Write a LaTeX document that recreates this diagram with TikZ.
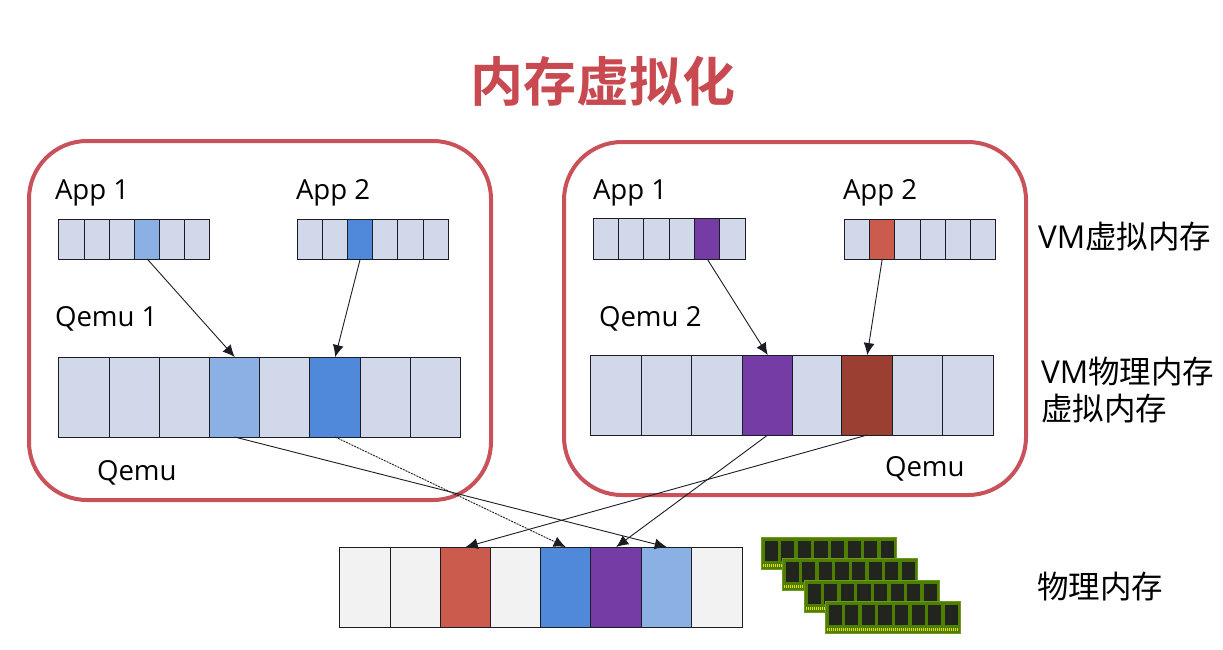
\documentclass[tikz,border=0pt]{standalone}
\usepackage{fontspec}
\setmainfont{Open Sans}
\newfontfamily\cjk{Noto Sans CJK SC}
\newfontfamily\cjkb{Noto Sans CJK SC Bold}
\usetikzlibrary{arrows.meta}
\definecolor{cellbg}{HTML}{D0D8E9}
\definecolor{lblue}{HTML}{8AB0E4}
\definecolor{mblue}{HTML}{5089DA}
\definecolor{vio}{HTML}{753CA5}
\definecolor{tomato}{HTML}{CB5B4C}
\definecolor{brownred}{HTML}{9A3F32}
\definecolor{greyc}{HTML}{F2F2F2}
\definecolor{vmred}{HTML}{C9515A}
\definecolor{titlered}{HTML}{C8494F}
\definecolor{ink}{HTML}{1C1C24}
\definecolor{ramgreen}{HTML}{4F7F00}
\definecolor{ramedge}{HTML}{6E9A20}
\definecolor{chip}{HTML}{22241E}
\definecolor{gold}{HTML}{E6DC18}
\tikzset{
  cellbox/.style={draw=ink,line width=0.9pt,inner sep=0pt,outer sep=0pt},
  vmbox/.style={draw=vmred,line width=4pt,rounded corners=58pt,fill=none},
  label/.style={inner sep=0pt,outer sep=0pt,text=black,font=\fontsize{27.6}{32}\selectfont},
  cjklabel/.style={inner sep=0pt,outer sep=0pt,text=black,anchor=west,align=left,font=\fontsize{31.5}{37}\selectfont},
  maplink/.style={draw=ink,line width=0.9pt,-{Latex[length=12pt,width=11pt]}},
  maplinkdot/.style={maplink,dash pattern=on 2pt off 1pt}
}
\newcommand{\cellrow}[4]{%
  \foreach \xa/\xb/\fc [count=\i] in {#4} {%
    \node[cellbox,fill=\fc,minimum width={(\xb-\xa)*1pt},minimum height={(#3-#2)*1pt}] (#1\i) at ({(\xa+\xb)/2-0.3},{(#2+#3)/2}) {};
  }}
\begin{document}
\begin{tikzpicture}[x=1pt,y=-1pt]
\useasboundingbox (0,0) rectangle (1223,649);
\node[inner sep=0pt,text=titlered,font=\cjkb\fontsize{53}{60}\selectfont] (title) at (603,81) {内存虚拟化};
\draw[vmbox] (29,141) rectangle (491,500);
\draw[vmbox] (564,142) rectangle (1026,495);
% left VM
\node[label,anchor=west] (la1) at (55,192.5) {App 1};
\node[label,anchor=west] (la2) at (296,192.5) {App 2};
\node[label,anchor=west] (lq1) at (55,319) {Qemu 1};
\node[label,anchor=west] (lq) at (97,473) {Qemu};
\cellrow{a}{219}{259}{59/84.5/cellbg,84.5/110/cellbg,110/135/cellbg,135/160/lblue,160/185/cellbg,185/210/cellbg}
\cellrow{b}{219}{259}{298/323/cellbg,323/348/cellbg,348/373/mblue,373/398/cellbg,398/424/cellbg,424/449/cellbg}
\cellrow{q}{357}{437}{59/110/cellbg,110/160/cellbg,160/210/cellbg,210/260/lblue,260/310/cellbg,310/361/mblue,361/411/cellbg,411/461/cellbg}
% right VM
\node[label,anchor=west] (ra1) at (593,192.5) {App 1};
\node[label,anchor=west] (ra2) at (843,192.5) {App 2};
\node[label,anchor=west] (rq2) at (599,319) {Qemu 2};
\node[label,anchor=west] (rq) at (885,469) {Qemu};
\cellrow{c}{218}{259}{594/619/cellbg,619/644/cellbg,644/670/cellbg,670/695/cellbg,695/720/vio,720/746/cellbg}
\cellrow{d}{219}{259}{845/870/cellbg,870/895/tomato,895/921/cellbg,921/946/cellbg,946/971/cellbg,971/996/cellbg}
\cellrow{r}{355}{435}{591/642/cellbg,642/692/cellbg,692/743/cellbg,743/793/vio,793/842/cellbg,842/893/brownred,893/943/cellbg,943/994/cellbg}
% physical
\cellrow{p}{547}{627}{340/391/greyc,391/441/greyc,441/491/tomato,491/541/greyc,541/591/mblue,591/642/vio,642/692/lblue,692/743/greyc}
% connectors
\draw[maplink] (a4.south) -- (q4.north);
\draw[maplink] (b3.south) -- (q6.north);
\draw[maplink] (c5.south) -- (r4.north);
\draw[maplink] (d2.south) -- (r6.north);
\draw[maplink] (q4.south) -- (p7.north);
\draw[maplinkdot] (q6.south) -- (p5.north);
\draw[maplink] (r4.south) -- (p6.north);
\draw[maplink] (r6.south) -- (p3.north);
% RAM sticks
\foreach \mx/\my in {761/537,782/558,804/580,825/601} {
  \fill[ramgreen,draw=ramedge,line width=0.8pt] (\mx,\my) rectangle ++(135,32);
  \foreach \k in {0,...,7}
    \fill[chip] ({\mx+3.5+\k*16.6},\my+3.5) rectangle ++(13.2,20);
  \draw[gold,line width=3.5pt,dash pattern=on 1.2pt off 0.8pt] (\mx+2,\my+28.5) -- ++(131,0);
}
% right labels
\node[cjklabel] (l1) at (1038,237) {VM{\cjk 虚拟内存}};
\node[cjklabel] (l2) at (1041,390) {VM{\cjk 物理内存}\\{\cjk 虚拟内存}};
\node[cjklabel] (l3) at (1037,587) {\cjk 物理内存};
\end{tikzpicture}
\end{document}
